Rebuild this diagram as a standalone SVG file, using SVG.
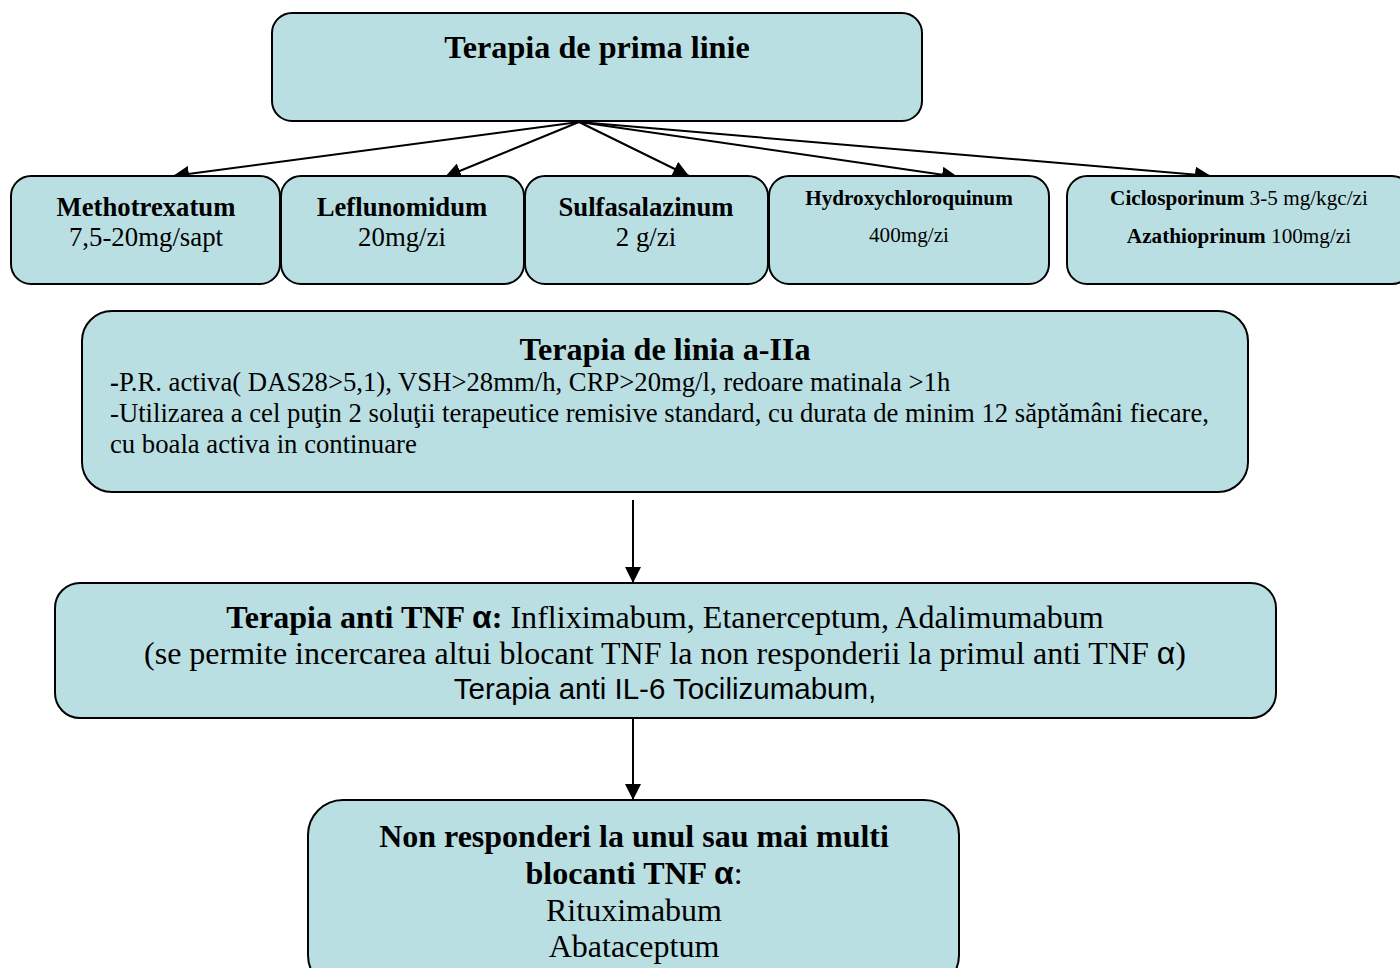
<svg xmlns="http://www.w3.org/2000/svg" width="1400" height="968" viewBox="0 0 1400 968">
<defs>
<marker id="ah" markerUnits="userSpaceOnUse" markerWidth="18" markerHeight="16" refX="16" refY="8" orient="auto"><path d="M0,0 L16,8 L0,16 Z" fill="#000"/></marker>
<style>
.box{fill:#badfe3;stroke:#000;stroke-width:2}
.conn{stroke:#000;stroke-width:2;fill:none;marker-end:url(#ah)}
text{font-family:"Liberation Serif","Times New Roman",serif;fill:#000}
.b{font-weight:bold}
.sans{font-family:"Liberation Sans",Arial,sans-serif}
.c{text-anchor:middle}
</style>
</defs>
<rect width="1400" height="968" fill="#fff"/>
<g id="connectors">
<line class="conn" x1="579" y1="122" x2="173" y2="176"/>
<line class="conn" x1="579" y1="122" x2="445" y2="177"/>
<line class="conn" x1="579" y1="122" x2="689" y2="176"/>
<line class="conn" x1="579" y1="122" x2="958" y2="177"/>
<line class="conn" x1="579" y1="122" x2="1211" y2="176"/>
<line class="conn" x1="633" y1="500" x2="633" y2="583"/>
<line class="conn" x1="633" y1="718" x2="633" y2="800"/>
</g>
<g id="n-prima">
<rect class="box" x="272" y="13" width="650" height="108" rx="20"/>
<text class="b c" x="597" y="58" font-size="32.2">Terapia de prima linie</text>
</g>
<g id="n-mtx">
<rect class="box" x="11" y="176" width="269" height="108" rx="20"/>
<text class="b c" x="146" y="216" font-size="26.7">Methotrexatum</text>
<text class="c" x="146" y="246" font-size="26.8">7,5-20mg/sapt</text>
</g>
<g id="n-lef">
<rect class="box" x="281" y="176" width="243" height="108" rx="20"/>
<text class="b c" x="402" y="216" font-size="26.7">Leflunomidum</text>
<text class="c" x="402" y="246" font-size="26.8">20mg/zi</text>
</g>
<g id="n-sulf">
<rect class="box" x="525" y="176" width="243" height="108" rx="20"/>
<text class="b c" x="646" y="216" font-size="26.7">Sulfasalazinum</text>
<text class="c" x="646" y="246" font-size="26.8">2 g/zi</text>
</g>
<g id="n-hcq">
<rect class="box" x="769" y="176" width="280" height="108" rx="20"/>
<text class="b c" x="909" y="205" font-size="21.2">Hydroxychloroquinum</text>
<text class="c" x="909" y="242" font-size="21.2">400mg/zi</text>
</g>
<g id="n-cic">
<rect class="box" x="1067" y="176" width="345" height="108" rx="20"/>
<text class="c" x="1239" y="205" font-size="21.2"><tspan class="b">Ciclosporinum</tspan> 3-5 mg/kgc/zi</text>
<text class="c" x="1239" y="243" font-size="21.2"><tspan class="b">Azathioprinum</tspan> 100mg/zi</text>
</g>
<g id="n-linia2">
<rect class="box" x="82" y="311" width="1166" height="181" rx="30"/>
<text class="b c" x="665" y="360" font-size="32.2">Terapia de linia a-IIa</text>
<text x="110" y="391" font-size="26.7"><tspan class="b">-</tspan>P.R. activa( DAS28&gt;5,1), VSH&gt;28mm/h, CRP&gt;20mg/l, redoare matinala &gt;1h</text>
<text x="110" y="422" font-size="26.7">-Utilizarea a cel puţin 2 soluţii terapeutice remisive standard, cu durata de minim 12 săptămâni fiecare,</text>
<text x="110" y="453" font-size="26.7">cu boala activa in continuare</text>
</g>
<g id="n-tnf">
<rect class="box" x="55" y="583" width="1221" height="135" rx="25"/>
<text class="c" x="665" y="628" font-size="32.1"><tspan class="b">Terapia anti TNF <tspan class="sans">α</tspan>:</tspan> Infliximabum, Etanerceptum, Adalimumabum</text>
<text class="c" x="665" y="664" font-size="32">(se permite incercarea altui blocant TNF la non responderii la primul anti TNF <tspan class="sans">α</tspan>)</text>
<text class="c sans" x="665" y="699" font-size="29.5">Terapia anti IL-6 Tocilizumabum,</text>
</g>
<g id="n-nonresp">
<rect class="box" x="308" y="800" width="651" height="190" rx="35"/>
<text class="b c" x="634" y="847" font-size="32">Non responderi la unul sau mai multi</text>
<text class="c" x="634" y="884" font-size="32"><tspan class="b">blocanti TNF <tspan class="sans">α</tspan></tspan>:</text>
<text class="c" x="634" y="921" font-size="32">Rituximabum</text>
<text class="c" x="634" y="957" font-size="32">Abataceptum</text>
</g>
</svg>
